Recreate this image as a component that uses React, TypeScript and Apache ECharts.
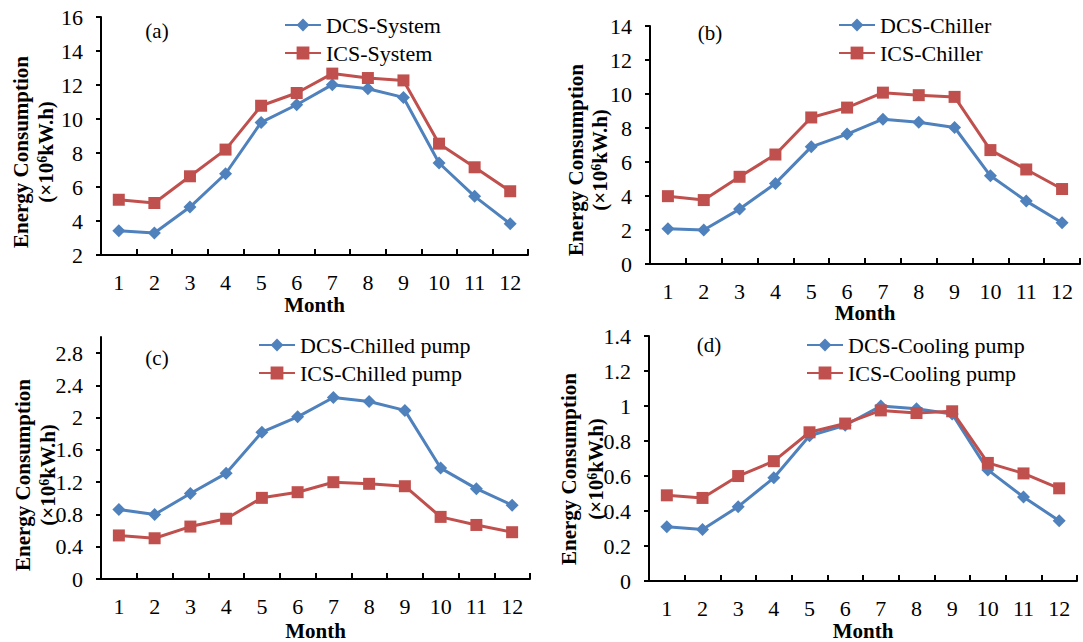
import React, { useEffect, useRef } from "react";
import * as echarts from "echarts";

const months = ["1", "2", "3", "4", "5", "6", "7", "8", "9", "10", "11", "12"];

const dcsSystem = [3.43, 3.29, 4.82, 6.78, 9.8, 10.84, 12.02, 11.78, 11.27, 7.41, 5.45, 3.84];
const icsSystem = [5.25, 5.06, 6.63, 8.2, 10.78, 11.53, 12.67, 12.41, 12.27, 8.55, 7.16, 5.75];
const dcsChiller = [2.08, 2.0, 3.23, 4.74, 6.89, 7.64, 8.52, 8.34, 8.03, 5.19, 3.7, 2.43];
const icsChiller = [3.99, 3.76, 5.13, 6.44, 8.62, 9.2, 10.08, 9.93, 9.83, 6.7, 5.56, 4.41];
const dcsChilledPump = [0.862, 0.8, 1.06, 1.31, 1.82, 2.01, 2.25, 2.2, 2.09, 1.375, 1.12, 0.915];
const icsChilledPump = [0.54, 0.505, 0.65, 0.747, 1.006, 1.076, 1.2, 1.18, 1.15, 0.77, 0.67, 0.58];
const dcsCoolingPump = [0.31, 0.295, 0.425, 0.59, 0.83, 0.89, 1.0, 0.985, 0.955, 0.635, 0.48, 0.345];
const icsCoolingPump = [0.49, 0.475, 0.6, 0.685, 0.85, 0.9, 0.975, 0.96, 0.97, 0.675, 0.615, 0.53];

const panelLabels = ["(a)", "(b)", "(c)", "(d)"];
const dcsNames = ["DCS-System", "DCS-Chiller", "DCS-Chilled pump", "DCS-Cooling pump"];
const icsNames = ["ICS-System", "ICS-Chiller", "ICS-Chilled pump", "ICS-Cooling pump"];
const dcsData = [dcsSystem, dcsChiller, dcsChilledPump, dcsCoolingPump];
const icsData = [icsSystem, icsChiller, icsChilledPump, icsCoolingPump];
const yMin = [2, 0, 0, 0];
const yMax = [16, 14, 3, 1.4];
const yStep = [2, 2, 0.4, 0.2];
const xTitle = "Month";
const yTitle1 = "Energy Consumption";
const yTitle2 = "(×10{s|6}kW.h)";

const FONT = "Liberation Serif, Times New Roman, serif";
const BLUE = "#4F81BD";
const RED = "#C0504D";

// layout (pixels)
const grids = [
  { left: 101, top: 17, width: 427, height: 238 },
  { left: 650, top: 26, width: 430, height: 238 },
  { left: 101, top: 337, width: 429, height: 243 },
  { left: 649, top: 336, width: 428, height: 251 },
];
const nameGaps = [39, 33, 41, 35];
const legendPos = [
  { left: 284, top: 14 },
  { left: 838, top: 14 },
  { left: 258, top: 334 },
  { left: 806, top: 334 },
];
const labelPos = [
  { x: 157, y: 31 },
  { x: 710, y: 33 },
  { x: 157, y: 358 },
  { x: 709, y: 345 },
];
const yNamePos = [
  { x1: 21, x2: 46, y: 152 },
  { x1: 576, x2: 600, y: 160 },
  { x1: 23, x2: 48, y: 475 },
  { x1: 569, x2: 596, y: 469 },
];

export default function App() {
  const ref = useRef<HTMLDivElement>(null);

  useEffect(() => {
    if (!ref.current) return;
    const chart = echarts.init(ref.current, null, { renderer: "svg" });

    const axisLine = { show: true, lineStyle: { color: "#000", width: 2 } };

    const option: any = {
      animation: false,
      backgroundColor: "#fff",
      textStyle: { fontFamily: FONT },
      grid: grids.map((g) => ({ ...g, containLabel: false })),
      xAxis: grids.map((_, i) => ({
        type: "category",
        gridIndex: i,
        data: months,
        boundaryGap: true,
        axisLine,
        axisTick: { show: true, inside: true, length: 6, lineStyle: { color: "#000", width: 2 } },
        axisLabel: { color: "#000", fontSize: 22, fontFamily: FONT, margin: 16, interval: 0 },
        splitLine: { show: false },
        name: xTitle,
        nameLocation: "middle",
        nameGap: nameGaps[i],
        nameTextStyle: { color: "#000", fontSize: 21, fontWeight: "bold", fontFamily: FONT },
      })),
      yAxis: grids.map((_, i) => ({
        type: "value",
        gridIndex: i,
        min: yMin[i],
        max: yMax[i],
        interval: yStep[i],
        axisLine,
        axisTick: { show: true, inside: false, length: 5, lineStyle: { color: "#000", width: 2 } },
        axisLabel: { color: "#000", fontSize: 22, fontFamily: FONT, margin: 18, showMaxLabel: i !== 2 },
        splitLine: { show: false },
      })),
      legend: grids.map((_, i) => ({
        data: [dcsNames[i], icsNames[i]],
        orient: "vertical",
        left: legendPos[i].left,
        top: legendPos[i].top,
        itemWidth: 36,
        itemHeight: 16,
        itemGap: 6,
        textStyle: { color: "#000", fontSize: 22, fontFamily: FONT },
        padding: 0,
      })),
      series: grids.flatMap((_, i) => [
        {
          type: "line",
          name: dcsNames[i],
          xAxisIndex: i,
          yAxisIndex: i,
          data: dcsData[i],
          symbol: "diamond",
          symbolSize: 13,
          lineStyle: { color: BLUE, width: 3 },
          itemStyle: { color: BLUE },
          z: 3,
        },
        {
          type: "line",
          name: icsNames[i],
          xAxisIndex: i,
          yAxisIndex: i,
          data: icsData[i],
          symbol: "rect",
          symbolSize: 12,
          lineStyle: { color: RED, width: 3 },
          itemStyle: { color: RED },
          z: 4,
        },
      ]),
      graphic: grids.flatMap((_, i) => [
        {
          type: "text",
          x: labelPos[i].x,
          y: labelPos[i].y,
          style: {
            text: panelLabels[i],
            fontSize: 21,
            fontFamily: FONT,
            fill: "#000",
            align: "center",
            verticalAlign: "middle",
          },
        },
        {
          type: "text",
          x: yNamePos[i].x1,
          y: yNamePos[i].y,
          rotation: Math.PI / 2,
          style: {
            text: yTitle1,
            fontSize: 21,
            fontWeight: "bold",
            fontFamily: FONT,
            fill: "#000",
            align: "center",
            verticalAlign: "middle",
          },
        },
        {
          type: "text",
          x: yNamePos[i].x2,
          y: yNamePos[i].y,
          rotation: Math.PI / 2,
          style: {
            text: yTitle2,
            fontSize: 21,
            fontWeight: "bold",
            fontFamily: FONT,
            fill: "#000",
            align: "center",
            verticalAlign: "middle",
            rich: {
              s: {
                fontSize: 14,
                fontWeight: "bold",
                fontFamily: FONT,
                fill: "#000",
                verticalAlign: "top",
              },
            },
          },
        },
      ]),
    };

    chart.setOption(option);
    return () => chart.dispose();
  }, []);

  return (
    <div
      ref={ref}
      style={{ position: "fixed", left: 0, top: 0, width: 1083, height: 642, background: "#fff" }}
    />
  );
}
